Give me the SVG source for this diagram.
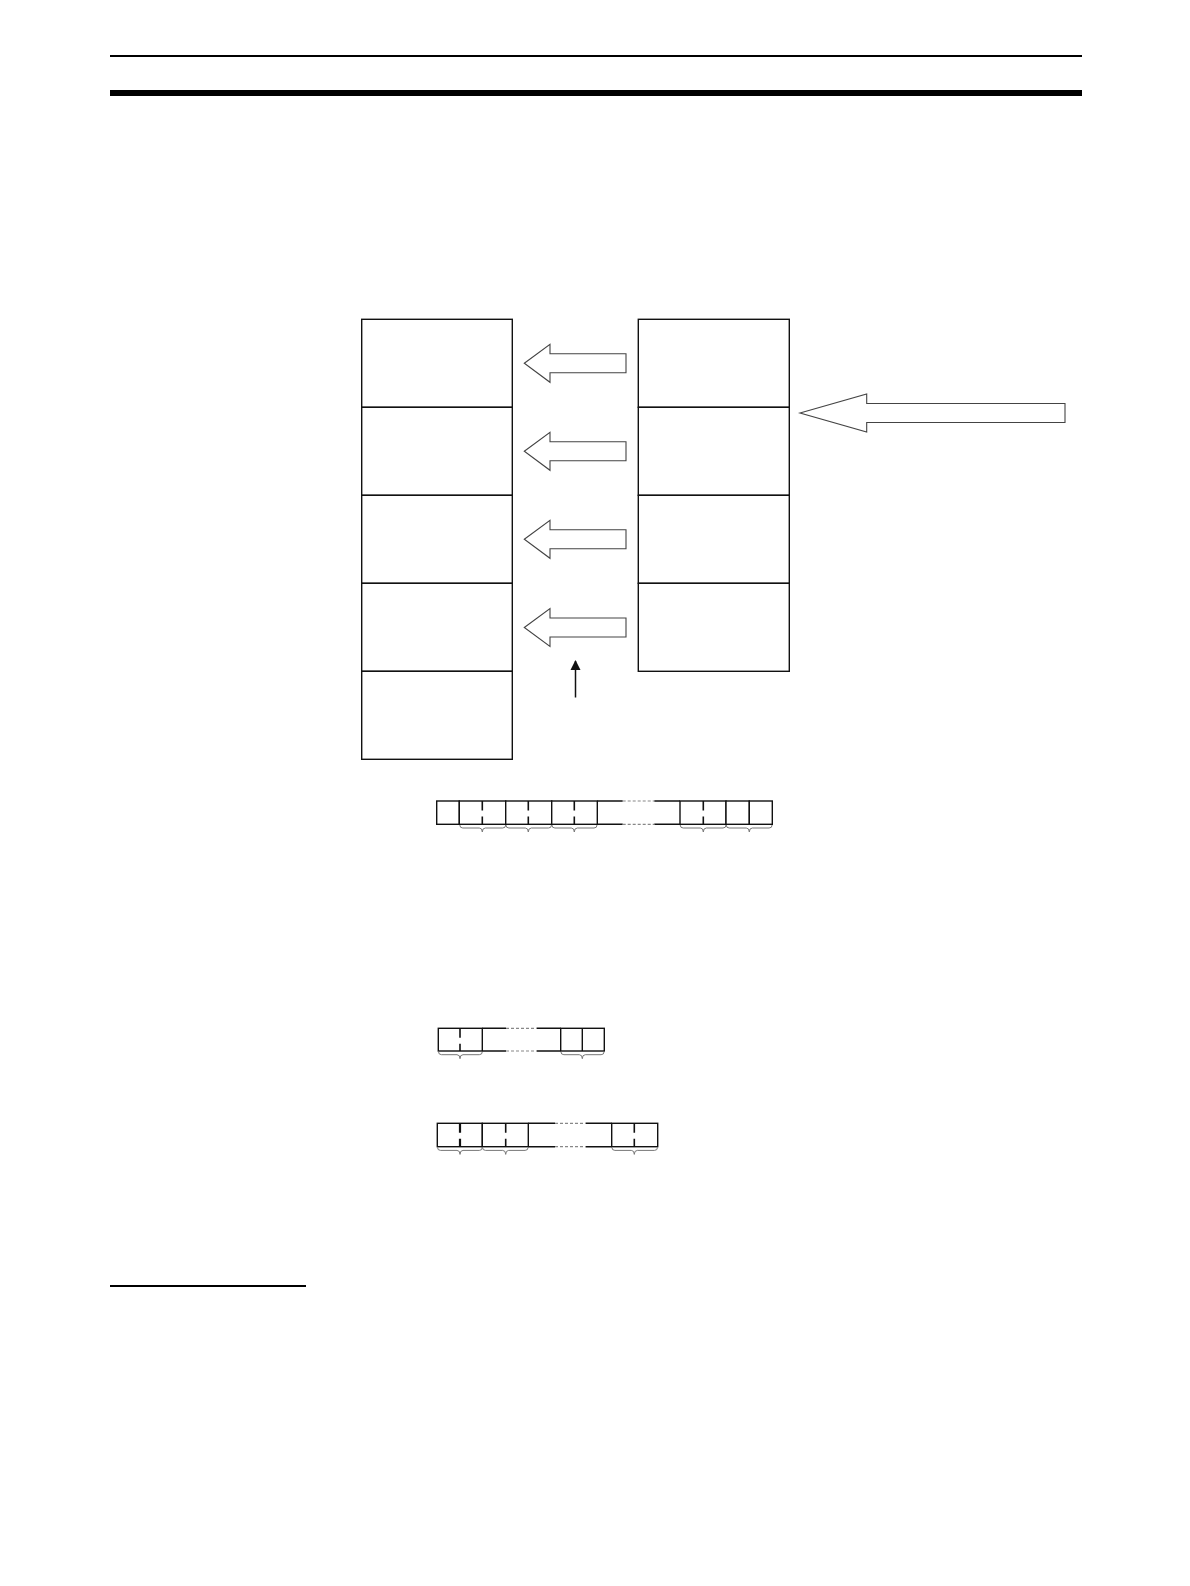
<svg xmlns="http://www.w3.org/2000/svg" width="1190" height="1586" viewBox="0 0 1190 1586">
<defs>
<style>
.box{fill:#fff;stroke:#111;stroke-width:1.4}
.ln{stroke:#111;stroke-width:1.4;fill:none}
.tick{stroke:#111;stroke-width:1.6;fill:none;stroke-dasharray:9.5 6 20}
.dash{stroke:#888;stroke-width:1.2;stroke-dasharray:3 2;fill:none}
.arr{fill:#fff;stroke:#444;stroke-width:1.1;stroke-linejoin:miter}
.brace{fill:none;stroke:#777;stroke-width:1}
</style>
<path id="smallArrow" class="arr" d="M0,0 L25.7,-19 L25.7,-9.5 L101.7,-9.5 L101.7,9.5 L25.7,9.5 L25.7,19 Z"/>
<marker id="head" viewBox="0 0 10 10" refX="9" refY="5" markerWidth="10" markerHeight="11" markerUnits="userSpaceOnUse" orient="auto">
<path d="M0,0 L10,5 L0,10 Z" fill="#111"/>
</marker>
</defs>
<rect width="1190" height="1586" fill="#fff"/>
<g id="header">
<rect x="110" y="55" width="972" height="2" fill="#000"/>
<rect x="110" y="90" width="972" height="6" fill="#000"/>
</g>
<g id="left-column">
<rect class="box" x="361.7" y="319.3" width="150.6" height="88"/>
<rect class="box" x="361.7" y="407.3" width="150.6" height="88"/>
<rect class="box" x="361.7" y="495.3" width="150.6" height="88"/>
<rect class="box" x="361.7" y="583.3" width="150.6" height="88"/>
<rect class="box" x="361.7" y="671.3" width="150.6" height="88"/>
</g>
<g id="right-column">
<rect class="box" x="638.3" y="319.3" width="151" height="88"/>
<rect class="box" x="638.3" y="407.3" width="151" height="88"/>
<rect class="box" x="638.3" y="495.3" width="151" height="88"/>
<rect class="box" x="638.3" y="583.3" width="151" height="88"/>
</g>
<g id="connectors">
<use href="#smallArrow" x="524.3" y="363.3"/>
<use href="#smallArrow" x="524.3" y="451.3"/>
<use href="#smallArrow" x="524.3" y="539.3"/>
<use href="#smallArrow" x="524.3" y="627.5"/>
<path class="arr" d="M800,413 L866.7,394 L866.7,403.5 L1065,403.5 L1065,422.5 L866.7,422.5 L866.7,432 Z"/>
<line x1="575.5" y1="697.5" x2="575.5" y2="661" stroke="#111" stroke-width="1.5" marker-end="url(#head)"/>
</g>
<g id="strip-1">
<rect class="box" x="436.7" y="801" width="22.6" height="23.3"/>
<rect class="box" x="459.3" y="801" width="46.4" height="23.3"/>
<rect class="box" x="505.7" y="801" width="46" height="23.3"/>
<rect class="box" x="551.7" y="801" width="45.6" height="23.3"/>
<line class="tick" x1="482.3" y1="801" x2="482.3" y2="824.3"/>
<line class="tick" x1="528.3" y1="801" x2="528.3" y2="824.3"/>
<line class="tick" x1="574.3" y1="801" x2="574.3" y2="824.3"/>
<path class="ln" d="M597.3,801 H622.7 M654.3,801 H680 M597.3,824.3 H622.7 M654.3,824.3 H680"/>
<path class="dash" d="M622.7,801 H654.3 M622.7,824.3 H654.3"/>
<rect class="box" x="680" y="801" width="46" height="23.3"/>
<line class="tick" x1="703.3" y1="801" x2="703.3" y2="824.3"/>
<rect class="box" x="726" y="801" width="23.3" height="23.3"/>
<rect class="box" x="749.3" y="801" width="23" height="23.3"/>
<path class="brace" d="M459.8,825 q0,3 3,3 H479.3 q3,0 3,4 q0,-4 3,-4 H502.7 q3,0 3,-3"/>
<path class="brace" d="M505.9,825 q0,3 3,3 H525.3 q3,0 3,4 q0,-4 3,-4 H548.5 q3,0 3,-3"/>
<path class="brace" d="M551.9,825 q0,3 3,3 H571.3 q3,0 3,4 q0,-4 3,-4 H594 q3,0 3,-3"/>
<path class="brace" d="M680.2,825 q0,3 3,3 H700.3 q3,0 3,4 q0,-4 3,-4 H723 q3,0 3,-3"/>
<path class="brace" d="M726.2,825 q0,3 3,3 H746.3 q3,0 3,4 q0,-4 3,-4 H769.1 q3,0 3,-3"/>
</g>
<g id="strip-2">
<rect class="box" x="438.3" y="1028.3" width="44" height="22.7"/>
<line class="tick" x1="460" y1="1028.3" x2="460" y2="1051"/>
<path class="ln" d="M482.3,1028.3 H506 M536.7,1028.3 H560.7 M482.3,1051 H506 M536.7,1051 H560.7"/>
<path class="dash" d="M506,1028.3 H536.7 M506,1051 H536.7"/>
<rect class="box" x="560.7" y="1028.3" width="43.6" height="22.7"/>
<line class="ln" x1="582.3" y1="1028.3" x2="582.3" y2="1051"/>
<path class="brace" d="M438.5,1051.7 q0,3 3,3 H457 q3,0 3,4 q0,-4 3,-4 H479.3 q3,0 3,-3"/>
<path class="brace" d="M560.9,1051.7 q0,3 3,3 H579.3 q3,0 3,4 q0,-4 3,-4 H601.1 q3,0 3,-3"/>
</g>
<g id="strip-3">
<rect class="box" x="437.3" y="1123.3" width="45" height="23.4"/>
<line class="tick" x1="460" y1="1123.3" x2="460" y2="1146.7" style="stroke-width:2.2"/>
<rect class="box" x="482.3" y="1123.3" width="46" height="23.4"/>
<line class="tick" x1="505.7" y1="1123.3" x2="505.7" y2="1146.7"/>
<path class="ln" d="M528.3,1123.3 H555 M585.7,1123.3 H611.7 M528.3,1146.7 H555 M585.7,1146.7 H611.7"/>
<path class="dash" d="M555,1123.3 H585.7 M555,1146.7 H585.7"/>
<rect class="box" x="611.7" y="1123.3" width="46" height="23.4"/>
<line class="tick" x1="634.3" y1="1123.3" x2="634.3" y2="1146.7"/>
<path class="brace" d="M437.5,1147.4 q0,3 3,3 H457 q3,0 3,4 q0,-4 3,-4 H479.3 q3,0 3,-3"/>
<path class="brace" d="M482.5,1147.4 q0,3 3,3 H502.7 q3,0 3,4 q0,-4 3,-4 H525.1 q3,0 3,-3"/>
<path class="brace" d="M611.9,1147.4 q0,3 3,3 H631.3 q3,0 3,4 q0,-4 3,-4 H654.5 q3,0 3,-3"/>
</g>
<g id="footer-rule">
<rect x="110" y="1285" width="196" height="2" fill="#000"/>
</g>
</svg>
